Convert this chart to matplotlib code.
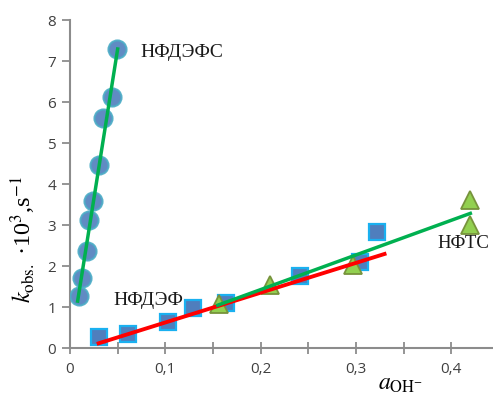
import matplotlib
matplotlib.use("Agg")
import matplotlib.pyplot as plt

plt.rcParams["mathtext.fontset"] = "stix"

# НФДЭФС (circles)
x_c = [0.0098, 0.0126, 0.018, 0.020, 0.024, 0.030, 0.035, 0.044, 0.049]
y_c = [1.28, 1.71, 2.38, 3.13, 3.59, 4.47, 5.61, 6.12, 7.29]
fit_c_x = [0.008, 0.050]
fit_c_y = [1.15, 7.30]

# НФДЭФ (squares)
x_s = [0.030, 0.061, 0.1025, 0.129, 0.164, 0.241, 0.304, 0.3225]
y_s = [0.28, 0.35, 0.65, 0.98, 1.11, 1.76, 2.11, 2.83]
fit_s_x = [0.030, 0.330]
fit_s_y = [0.12, 2.30]

# НФТС (triangles)
x_t = [0.156, 0.210, 0.297, 0.420, 0.420]
y_t = [1.08, 1.54, 2.03, 3.00, 3.62]
fit_t_x = [0.155, 0.420]
fit_t_y = [1.05, 3.29]

xticks = [0, 0.1, 0.2, 0.3, 0.4]
xtick_labels = ["0", "0,1", "0,2", "0,3", "0,4"]
yticks = [0, 1, 2, 3, 4, 5, 6, 7, 8]

fig = plt.figure(figsize=(4.93, 3.98), dpi=100)
ax = fig.add_axes([0.142, 0.125, 0.870, 0.824])

ax.plot(x_s, y_s, "s", ms=12, mfc="#4F7EBD", mec="#1AB0F0", mew=1.6, zorder=3)
ax.plot(fit_s_x, fit_s_y, color="#FF0000", lw=2.8, zorder=4)

ax.plot(x_t, y_t, "^", ms=13, mfc="#92D050", mec="#77933C", mew=1.3, zorder=3)
ax.plot(fit_t_x, fit_t_y, color="#00B050", lw=2.5, zorder=5)

ax.plot(x_c, y_c, "o", ms=13, mfc="#4F7EBD", mec="#4BACC6", mew=1.5, alpha=0.9, zorder=3)
ax.plot(fit_c_x, fit_c_y, color="#00B050", lw=2.5, zorder=5)

ax.text(0.074, 7.1, "НФДЭФС", family="Liberation Serif", fontsize=14, color="#1a1a1a")
ax.text(0.045, 1.05, "НФДЭФ", family="Liberation Serif", fontsize=14, color="#1a1a1a")
ax.text(0.385, 2.45, "НФТС", family="Liberation Serif", fontsize=13.5, color="#1a1a1a")

ax.set_xlim(0, 0.45)
ax.set_ylim(0, 8)
ax.set_xticks(xticks)
ax.set_xticklabels(xtick_labels)
ax.set_xticks([0.05, 0.15, 0.25, 0.35], minor=True)
ax.set_yticks(yticks)

for s in ["top", "right"]:
    ax.spines[s].set_visible(False)
for s in ["left", "bottom"]:
    ax.spines[s].set_color("#8c8c8c")
    ax.spines[s].set_linewidth(1.5)
    ax.spines[s].set_zorder(2)

ax.tick_params(axis="x", which="both", direction="inout", length=8, width=1.3,
               color="#8c8c8c", labelsize=11, labelcolor="#404040", pad=6)
ax.tick_params(axis="y", direction="out", length=6, width=1.3,
               color="#8c8c8c", labelsize=11, labelcolor="#404040", pad=4)
for lab in ax.get_xticklabels() + ax.get_yticklabels():
    lab.set_family("Open Sans")

ax.set_ylabel(r"$k_{\rm obs.}$ ·10$^3$,s$^{-1}$", fontsize=17.5, family="Liberation Serif")
ax.yaxis.set_label_coords(-0.075, 0.33)
ax.set_xlabel(r"$a_{\rm OH^{-}}$", fontsize=17)
ax.xaxis.set_label_coords(0.77, -0.07)

fig.savefig("out.png", dpi=100)
